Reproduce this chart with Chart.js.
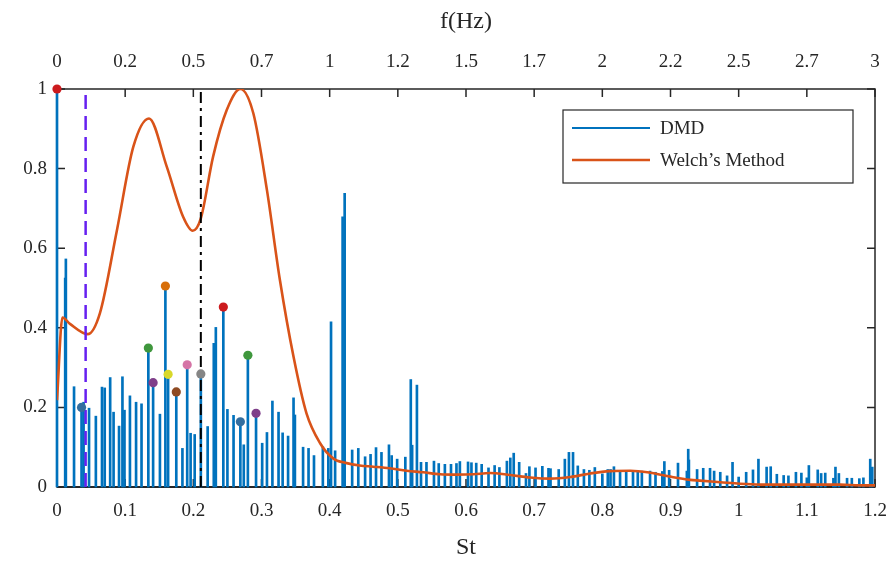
<!DOCTYPE html>
<html>
<head>
<meta charset="utf-8">
<title>DMD vs Welch spectrum</title>
<script src="https://cdn.jsdelivr.net/npm/chart.js@4.4.1/dist/chart.umd.min.js"></script>
<style>
  html, body { margin: 0; padding: 0; background: #fff; }
  #wrap { width: 894px; height: 563px; }
</style>
</head>
<body>
<div id="wrap"><canvas id="spectrum" width="894" height="563"></canvas></div>
<script>
// DMD mode amplitudes (normalised), one stem per mode
const dmdSt = [
  0, 0.012, 0.013, 0.025, 0.036, 0.039, 0.047, 0.057, 0.066, 0.070,
  0.078, 0.083, 0.091, 0.096, 0.099, 0.107, 0.116, 0.124, 0.134, 0.141,
  0.151, 0.159, 0.163, 0.175, 0.184, 0.191, 0.196, 0.202, 0.211, 0.221,
  0.230, 0.233, 0.244, 0.250, 0.259, 0.269, 0.274, 0.280, 0.292, 0.301,
  0.308, 0.316, 0.325, 0.331, 0.339, 0.347, 0.349, 0.361, 0.369, 0.377,
  0.390, 0.398, 0.402, 0.408, 0.419, 0.422, 0.433, 0.442, 0.452, 0.460,
  0.468, 0.476, 0.487, 0.491, 0.499, 0.511, 0.519, 0.521, 0.528, 0.534,
  0.542, 0.553, 0.560, 0.569, 0.578, 0.586, 0.591, 0.603, 0.608, 0.615,
  0.623, 0.633, 0.642, 0.649, 0.660, 0.665, 0.670, 0.678, 0.688, 0.693,
  0.702, 0.712, 0.721, 0.724, 0.736, 0.745, 0.751, 0.757, 0.764, 0.773,
  0.781, 0.789, 0.800, 0.808, 0.812, 0.817, 0.826, 0.835, 0.845, 0.852,
  0.858, 0.870, 0.878, 0.888, 0.891, 0.898, 0.911, 0.924, 0.926, 0.927,
  0.939, 0.948, 0.958, 0.964, 0.973, 0.983, 0.991, 1.000, 1.011, 1.021,
  1.029, 1.041, 1.047, 1.056, 1.066, 1.073, 1.084, 1.092, 1.100, 1.103,
  1.116, 1.121, 1.127, 1.139, 1.142, 1.147, 1.159, 1.166, 1.177, 1.183,
  1.193, 1.196
];
const dmdAmp = [
  1.000, 0.525, 0.573, 0.252, 0.200, 0.213, 0.198, 0.178, 0.251, 0.249,
  0.275, 0.188, 0.153, 0.277, 0.193, 0.229, 0.213, 0.209, 0.349, 0.262,
  0.183, 0.505, 0.283, 0.239, 0.097, 0.307, 0.135, 0.132, 0.284, 0.152,
  0.361, 0.401, 0.452, 0.195, 0.180, 0.164, 0.106, 0.331, 0.185, 0.110,
  0.137, 0.216, 0.188, 0.136, 0.128, 0.224, 0.181, 0.100, 0.097, 0.079,
  0.101, 0.097, 0.415, 0.091, 0.679, 0.738, 0.093, 0.097, 0.076, 0.082,
  0.099, 0.087, 0.106, 0.079, 0.070, 0.075, 0.270, 0.105, 0.256, 0.062,
  0.062, 0.065, 0.059, 0.057, 0.057, 0.059, 0.064, 0.063, 0.061, 0.060,
  0.057, 0.048, 0.054, 0.049, 0.065, 0.073, 0.085, 0.062, 0.034, 0.051,
  0.048, 0.052, 0.047, 0.046, 0.044, 0.070, 0.087, 0.087, 0.053, 0.044,
  0.042, 0.049, 0.033, 0.044, 0.044, 0.051, 0.038, 0.038, 0.040, 0.040,
  0.040, 0.040, 0.037, 0.039, 0.064, 0.042, 0.060, 0.040, 0.095, 0.068,
  0.044, 0.047, 0.047, 0.040, 0.037, 0.028, 0.062, 0.025, 0.037, 0.043,
  0.070, 0.050, 0.051, 0.032, 0.029, 0.028, 0.037, 0.035, 0.023, 0.054,
  0.043, 0.034, 0.035, 0.022, 0.050, 0.034, 0.022, 0.022, 0.021, 0.023,
  0.070, 0.050
];

// selected modes, highlighted with coloured heads
const markerSt  = [0, 0.036, 0.134, 0.141, 0.159, 0.163, 0.175, 0.191, 0.211, 0.244, 0.269, 0.280, 0.292];
const markerAmp = [1.000, 0.200, 0.349, 0.262, 0.505, 0.283, 0.239, 0.307, 0.284, 0.452, 0.164, 0.331, 0.185];
const markerColors = [
  '#CC1B1E', '#336E9F', '#3F973D', '#7F3F8A', '#D86F0A',
  '#D8D82A', '#8E4A22', '#D574A6', '#858585',
  '#CC1B1E', '#336E9F', '#3F973D', '#7F3F8A'
];

// Welch PSD estimate (normalised)
const welchSt = [
  0, 0.008, 0.019, 0.045, 0.063, 0.088, 0.112, 0.135, 0.161, 0.185,
  0.199, 0.211, 0.229, 0.249, 0.269, 0.288, 0.308, 0.327, 0.347, 0.366,
  0.386, 0.405, 0.425, 0.444, 0.464, 0.488, 0.513, 0.537, 0.562, 0.586,
  0.611, 0.635, 0.665, 0.694, 0.723, 0.753, 0.782, 0.811, 0.841, 0.870,
  0.900, 0.929, 0.943, 0.973, 1.002, 1.031, 1.090, 1.149, 1.178, 1.200
];
const welchPsd = [
  0.218, 0.426, 0.410, 0.384, 0.437, 0.646, 0.855, 0.926, 0.805, 0.679,
  0.644, 0.675, 0.830, 0.947, 1.000, 0.939, 0.746, 0.520, 0.327, 0.185,
  0.110, 0.072, 0.060, 0.054, 0.051, 0.047, 0.041, 0.037, 0.032, 0.031,
  0.032, 0.035, 0.030, 0.024, 0.021, 0.025, 0.034, 0.040, 0.041, 0.036,
  0.026, 0.018, 0.016, 0.012, 0.008, 0.006, 0.006, 0.006, 0.004, 0.004
];

const cutoffSt = 0.042;   // dashed marker line
const peakSt = 0.211;     // dash-dot marker line

const stTickLabels = ['0', '0.1', '0.2', '0.3', '0.4', '0.5', '0.6', '0.7', '0.8', '0.9', '1', '1.1', '1.2'];
const freqTickLabels = ['0', '0.2', '0.5', '0.7', '1', '1.2', '1.5', '1.7', '2', '2.2', '2.5', '2.7', '3'];
const ampTickLabels = ['0', '0.2', '0.4', '0.6', '0.8', '1'];

const FONT = '"Liberation Serif", "DejaVu Serif", serif';
const INK = '#262626';

// box around the axes plus inward tick marks on all four sides
const axesFrame = {
  id: 'axesFrame',
  beforeDatasetsDraw(chart) {
    const { ctx, chartArea: a, scales } = chart;
    const len = 8;
    ctx.save();
    ctx.strokeStyle = INK;
    ctx.lineWidth = 1.5;
    ctx.strokeRect(a.left, a.top, a.right - a.left, a.bottom - a.top);
    ctx.lineWidth = 2.2;
    ctx.beginPath();
    ctx.moveTo(a.left, a.bottom);
    ctx.lineTo(a.right, a.bottom);
    ctx.stroke();
    ctx.lineWidth = 1.5;
    ctx.beginPath();
    scales.x.ticks.forEach(t => {
      const px = scales.x.getPixelForValue(t.value);
      ctx.moveTo(px, a.bottom); ctx.lineTo(px, a.bottom - len);
      ctx.moveTo(px, a.top); ctx.lineTo(px, a.top + len);
    });
    scales.y.ticks.forEach(t => {
      const py = scales.y.getPixelForValue(t.value);
      ctx.moveTo(a.left, py); ctx.lineTo(a.left + len, py);
      ctx.moveTo(a.right, py); ctx.lineTo(a.right - len, py);
    });
    ctx.stroke();
    ctx.restore();
  }
};

// boxed legend in the upper right corner of the axes
const boxLegend = {
  id: 'boxLegend',
  afterDraw(chart) {
    const { ctx, chartArea: a } = chart;
    const items = chart.data.datasets
      .filter(d => d.legendRank !== undefined)
      .sort((p, q) => p.legendRank - q.legendRank);
    const w = 290, h = 73;
    const x0 = a.right - 22 - w, y0 = a.top + 21;
    ctx.save();
    ctx.fillStyle = '#fff';
    ctx.fillRect(x0, y0, w, h);
    ctx.strokeStyle = INK;
    ctx.lineWidth = 1.2;
    ctx.strokeRect(x0, y0, w, h);
    ctx.font = '19px ' + FONT;
    ctx.textBaseline = 'middle';
    items.forEach((d, i) => {
      const y = y0 + 18 + i * 32;
      ctx.strokeStyle = d.borderColor;
      ctx.lineWidth = d.legendWidth;
      ctx.beginPath();
      ctx.moveTo(x0 + 9, y);
      ctx.lineTo(x0 + 87, y);
      ctx.stroke();
      ctx.fillStyle = INK;
      ctx.fillText(d.label, x0 + 97, y + 1);
    });
    ctx.restore();
  }
};

// horizontal axes: fixed height, no extra inset for end labels
const fitHorizontal = h => s => {
  s.height = h;
  s.paddingLeft = 0;
  s.paddingRight = 0;
};

const stems = dmdSt.map((s, i) => ({ x: s, y: dmdAmp[i] }));
const heads = markerSt.map((s, i) => ({ x: s, y: markerAmp[i] }));
const welch = welchSt.map((s, i) => ({ x: s, y: welchPsd[i] }));

new Chart(document.getElementById('spectrum'), {
  type: 'bar',
  data: {
    datasets: [
      {
        type: 'scatter',
        label: 'selected modes',
        data: heads,
        pointRadius: 4.6,
        pointBackgroundColor: markerColors,
        pointBorderWidth: 0,
        clip: false,
        order: 0
      },
      {
        type: 'line',
        label: 'St peak',
        data: [{ x: peakSt, y: 0 }, { x: peakSt, y: 1 }],
        borderColor: '#000',
        borderWidth: 2,
        borderDash: [11, 5, 3, 5],
        pointRadius: 0,
        order: 1
      },
      {
        type: 'line',
        label: 'St cutoff',
        data: [{ x: cutoffSt, y: 0 }, { x: cutoffSt, y: 1 }],
        borderColor: '#6620F0',
        borderWidth: 2.5,
        borderDash: [14, 7],
        pointRadius: 0,
        order: 1
      },
      {
        type: 'line',
        label: 'Welch\u2019s Method',
        legendRank: 1,
        legendWidth: 2.5,
        data: welch,
        borderColor: '#D95319',
        borderWidth: 2.6,
        cubicInterpolationMode: 'monotone',
        pointRadius: 0,
        order: 2
      },
      {
        type: 'bar',
        label: 'DMD',
        legendRank: 0,
        legendWidth: 2,
        data: stems,
        backgroundColor: '#0072BD',
        borderColor: '#0072BD',
        borderWidth: 0,
        barThickness: 2,
        grouped: false,
        clip: false,
        order: 3
      }
    ]
  },
  options: {
    responsive: false,
    animation: false,
    events: [],
    layout: { padding: { left: 0, right: 19, top: 0, bottom: 0 } },
    plugins: {
      legend: { display: false },
      tooltip: { enabled: false }
    },
    scales: {
      x: {
        type: 'linear',
        position: 'bottom',
        min: 0,
        max: 1.2,
        offset: false,
        grid: { display: false, drawTicks: false },
        border: { display: false },
        ticks: {
          stepSize: 0.1,
          maxRotation: 0,
          autoSkip: false,
          padding: 13,
          color: INK,
          font: { family: FONT, size: 19 },
          callback: (v, i) => stTickLabels[i]
        },
        title: {
          display: true,
          text: 'St',
          color: INK,
          font: { family: FONT, size: 24 },
          padding: { top: 6, bottom: 1 }
        },
        afterFit: fitHorizontal(76)
      },
      x2: {
        type: 'linear',
        position: 'top',
        min: 0,
        max: 1.2,
        offset: false,
        grid: { display: false, drawTicks: false },
        border: { display: false },
        ticks: {
          stepSize: 0.1,
          maxRotation: 0,
          autoSkip: false,
          padding: 16,
          color: INK,
          font: { family: FONT, size: 19 },
          callback: (v, i) => freqTickLabels[i]
        },
        title: {
          display: true,
          text: 'f(Hz)',
          color: INK,
          font: { family: FONT, size: 24 },
          padding: { top: 7, bottom: 6 }
        },
        afterFit: fitHorizontal(89)
      },
      y: {
        min: 0,
        max: 1,
        grid: { display: false, drawTicks: false },
        border: { display: false },
        ticks: {
          stepSize: 0.2,
          padding: 10,
          color: INK,
          font: { family: FONT, size: 19 },
          callback: (v, i) => ampTickLabels[i]
        },
        afterFit: s => { s.width = 57; }
      }
    }
  },
  plugins: [axesFrame, boxLegend]
});
</script>
</body>
</html>
